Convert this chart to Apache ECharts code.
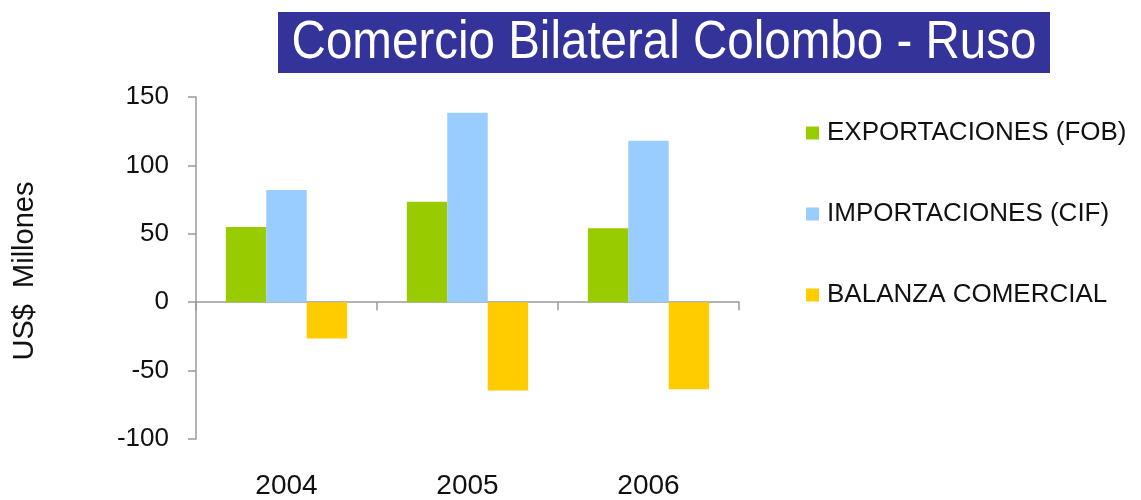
<!DOCTYPE html>
<html>
<head>
<meta charset="utf-8">
<script src="https://cdn.jsdelivr.net/npm/echarts@6/dist/echarts.min.js"></script>
<style>
  html, body { margin: 0; padding: 0; background: #fff; }
  #chart { width: 1141px; height: 500px; }
</style>
</head>
<body>
<div id="chart"></div>
<script>
// datos (US$ millones)
const years = ['2004', '2005', '2006'];
const exportaciones = [55, 73.5, 54];
const importaciones = [82, 138.5, 118];
const balanza = [-26.5, -64.5, -63.7];
const seriesNames = ['EXPORTACIONES (FOB)', 'IMPORTACIONES (CIF)', 'BALANZA COMERCIAL'];

const font = "'Liberation Sans', Arial, sans-serif";
const axisColor = '#9a9a9a';

const myChart = echarts.init(document.getElementById('chart'));

myChart.setOption({
  animation: false,
  textStyle: { fontFamily: font },
  graphic: [
    {
      type: 'rect',
      shape: { x: 278, y: 12, width: 772, height: 61 },
      style: { fill: '#333399' }
    },
    {
      type: 'text',
      x: 664,
      y: 43,
      scaleX: 0.88,
      style: {
        text: 'Comercio Bilateral Colombo - Ruso',
        fill: '#fff',
        font: "54px 'Liberation Sans', Arial, sans-serif",
        align: 'center',
        verticalAlign: 'middle'
      }
    },
    {
      // titulo del eje y
      type: 'text',
      x: 25,
      y: 271,
      rotation: Math.PI / 2,
      style: {
        text: 'US$  Millones',
        fill: '#111',
        font: "29px 'Liberation Sans', Arial, sans-serif",
        align: 'center',
        verticalAlign: 'middle'
      }
    }
  ],
  legend: {
    orient: 'vertical',
    left: 801,
    top: 115,
    itemWidth: 13,
    itemHeight: 13,
    itemGap: 55,
    icon: 'rect',
    textStyle: { fontSize: 26, color: '#111', fontFamily: font, padding: [0, 0, 0, 3] },
    data: seriesNames
  },
  grid: { left: 196, right: 402, top: 97, bottom: 57 },
  xAxis: [
    {
      type: 'category',
      data: years,
      axisLine: { show: true, onZero: true, lineStyle: { color: axisColor, width: 1.5 } },
      axisTick: { show: true, length: 8, lineStyle: { color: axisColor, width: 1.5 } },
      axisLabel: { show: false }
    },
    {
      type: 'category',
      data: years,
      position: 'bottom',
      axisLine: { show: false, onZero: false },
      axisTick: { show: false },
      axisLabel: { margin: 33, fontSize: 28, color: '#111', fontFamily: font }
    }
  ],
  yAxis: {
    type: 'value',
    min: -100,
    max: 150,
    interval: 50,
    axisLine: { show: true, lineStyle: { color: axisColor, width: 1.5 } },
    axisTick: { show: true, length: 8, lineStyle: { color: axisColor, width: 1.5 } },
    splitLine: { show: false },
    axisLabel: { margin: 27, fontSize: 26, color: '#111', fontFamily: font }
  },
  series: [
    {
      name: seriesNames[0],
      type: 'bar',
      data: exportaciones,
      barGap: '0%',
      barCategoryGap: '33%',
      itemStyle: { color: '#99cc00' }
    },
    {
      name: seriesNames[1],
      type: 'bar',
      data: importaciones,
      itemStyle: { color: '#99ccff' }
    },
    {
      name: seriesNames[2],
      type: 'bar',
      data: balanza,
      itemStyle: { color: '#ffcc00' }
    }
  ]
});
</script>
</body>
</html>
